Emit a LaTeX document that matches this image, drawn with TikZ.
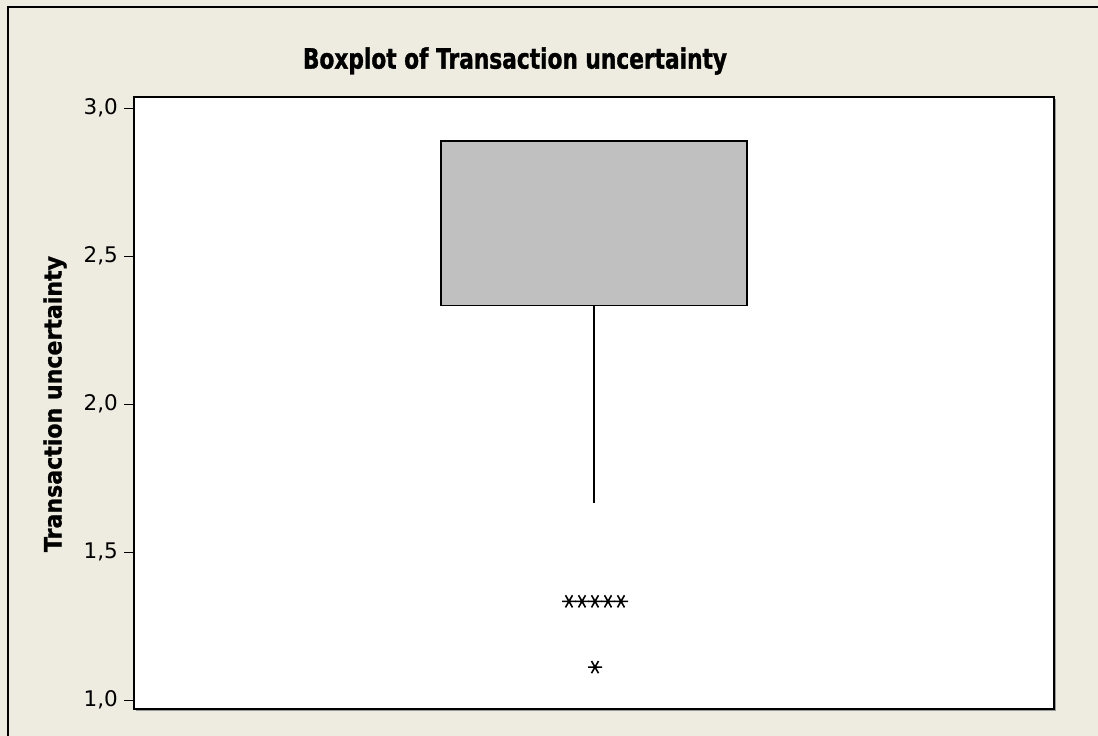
\documentclass[tikz,border=0pt]{standalone}
\usepackage{fontspec}
\setmainfont{DejaVu Sans}
\newfontfamily\titlefont{DejaVu Sans}[FakeStretch=0.775,BoldFeatures={FakeBold=1.2}]
\newfontfamily\axisfont{DejaVu Sans}[FakeStretch=0.92,BoldFeatures={FakeBold=1}]
\usetikzlibrary{calc}

\definecolor{panelbg}{RGB}{238,235,225}
\definecolor{boxgray}{RGB}{192,192,192}
\tikzset{
	frameline/.style={line width=1.8pt},
	plotframe/.style={line width=1.4pt,fill=white},
	tickline/.style={line width=1pt},
	ticklabel/.style={anchor=east,inner sep=0pt,font=\fontsize{21.5}{21.5}\selectfont},
	outlier/.style={line width=1.6pt},
}
% value -> vertical pixel position
\newcommand\yval[1]{108+296*(3-#1)}
\newcommand\outlierstar[1]{\draw[outlier] (#1) ++(0:7) -- ++(180:14)
	(#1) ++(60:7) -- ++(240:14) (#1) ++(120:7) -- ++(300:14);}

\begin{document}
\begin{tikzpicture}[x=1pt,y=-1pt]
				\useasboundingbox (0,0) rectangle (1098,736);
				\fill[panelbg] (0,0) rectangle (1098,736);
				\draw[frameline] (8,736) -- (8,7) -- (1098,7);
				% plot region
				\coordinate (P_nw) at (134,97);
				\coordinate (P_se) at (1054,709);
				\draw[gray!80,line width=1pt] ($(P_nw)+(921.5,2)$) -- ($(P_se)+(1.5,1.5)$) -- ($(P_nw)+(2,613.5)$);
				\draw[plotframe] (P_nw) rectangle (P_se);
				% box and whisker
				\coordinate (Q_1) at (441,{\yval{2.8889}});
				\coordinate (Q_3) at (747,{\yval{2.3333}});
				\coordinate (W_top) at (594,{\yval{2.3333}});
				\coordinate (W_low) at (594,{\yval{1.6667}});
				\draw[line width=1.4pt,fill=boxgray] (Q_1) rectangle (Q_3);
				\draw[line width=1.2pt] (W_top) -- (W_low);
				% outliers
				\foreach \i/\xx in {1/569,2/582,3/595,4/608,5/621}
					{\coordinate (O_\i) at (\xx,{\yval{1.3333}}); \outlierstar{O_\i}}
				\coordinate (O_6) at (595,{\yval{1.1111}});
				\outlierstar{O_6}
				% y axis
				\foreach \v/\a/\b in {3/3/0,2.5/2/5,2/2/0,1.5/1/5,1/1/0}
					{\coordinate (T_\a\b) at (134,{\yval{\v}});
					\draw[tickline] (T_\a\b) -- ++(-10,0);
					\node[ticklabel] (L_\a\b) at ($(T_\a\b)+(-16,0)$) {\a,\b};}
				\node[rotate=90,font=\axisfont\bfseries\fontsize{24}{24}\selectfont] (ylab) at (55,404) {Transaction uncertainty};
				\node[font=\titlefont\bfseries\fontsize{28}{28}\selectfont] (title) at (515,61) {Boxplot of Transaction uncertainty};
				\end{tikzpicture}
\end{document}
